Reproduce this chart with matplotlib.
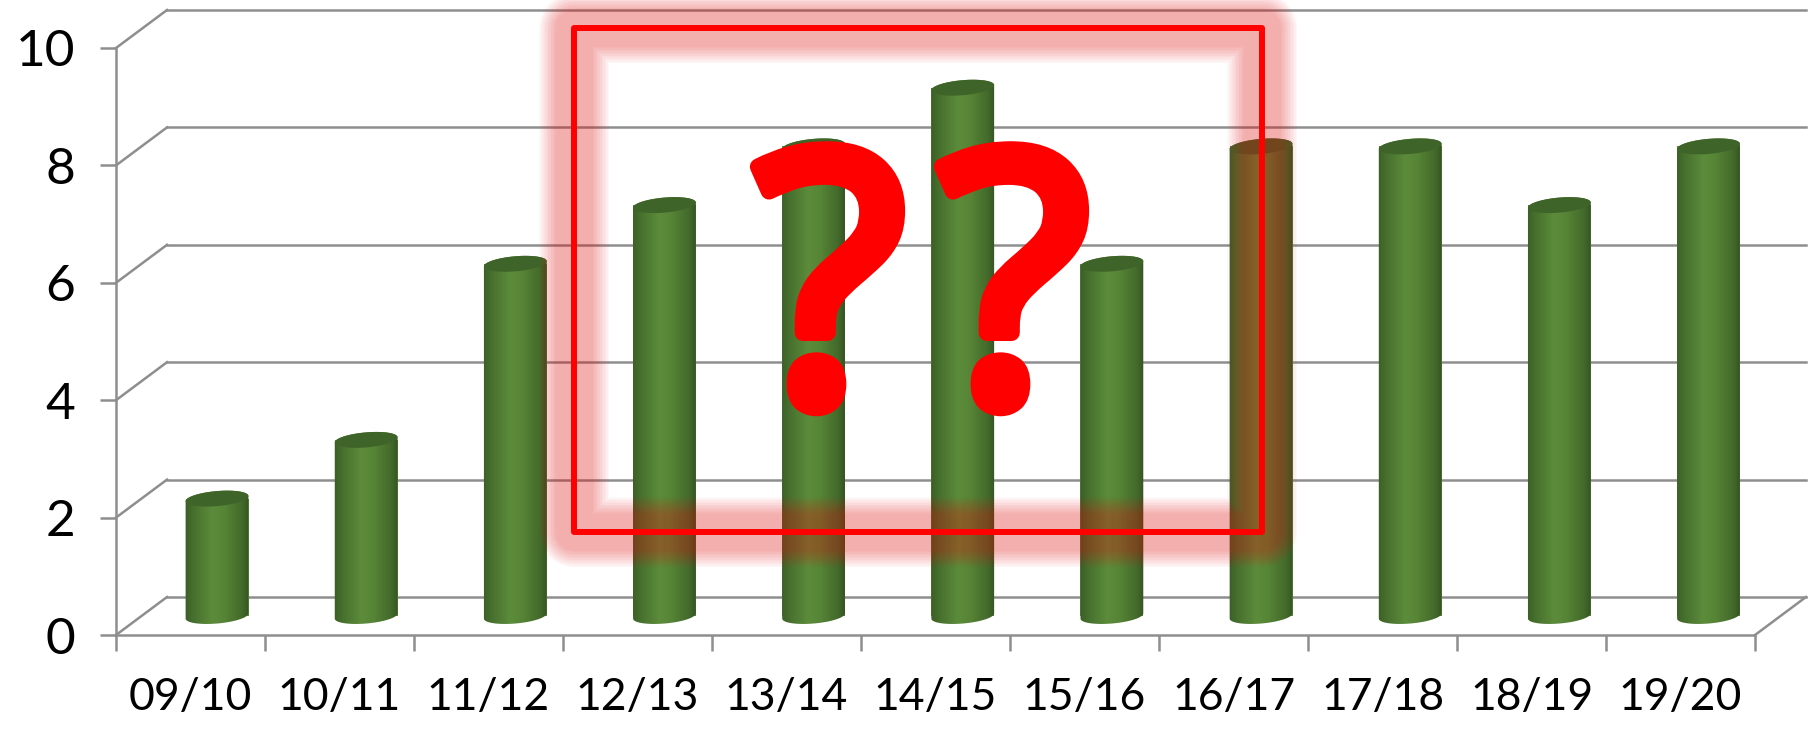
import numpy as np
from matplotlib import pyplot as plt
from matplotlib import patheffects
from matplotlib.colors import LinearSegmentedColormap
from matplotlib.patches import Polygon, Rectangle

seasons = ['09/10', '10/11', '11/12', '12/13', '13/14', '14/15',
           '15/16', '16/17', '17/18', '18/19', '19/20']
counts = [2, 3, 6, 7, 8, 9, 6, 8, 8, 7, 8]
y_ticks = [0, 2, 4, 6, 8, 10]

W, H = 1819, 731
GREY = '#8e8e8e'
plt.rcParams['font.family'] = ['Lato', 'DejaVu Sans']

fig = plt.figure(figsize=(W / 100, H / 100), dpi=100)
# front plane of the fake 3d box
ax = fig.add_axes([116 / W, 1 - 635 / H, (1755 - 116) / W, (635 - 48) / H])
ax.set_xlim(0, len(seasons))
ax.set_ylim(0, 10)

px_x = (1755 - 116) / len(seasons)
px_y = (635 - 48) / 10
dx = 51 / px_x
dy = 38 / px_y

# back wall and floor
for v in y_ticks:
    ax.plot([0, dx], [v, v + dy], color=GREY, lw=1.8, clip_on=False, zorder=1)
    ax.plot([dx, len(seasons) + dx], [v + dy, v + dy], color=GREY, lw=1.8,
            clip_on=False, zorder=1)
ax.plot([len(seasons), len(seasons) + dx], [0, dy], color=GREY, lw=1.8,
        clip_on=False, zorder=1)


def ellipse(cx, cy, t):
    # tilted ellipse, built in pixels and returned in data units
    a, b, tilt = 31.5, 7.5, np.radians(5)
    ex = a * np.cos(t) * np.cos(tilt) - b * np.sin(t) * np.sin(tilt)
    ey = a * np.cos(t) * np.sin(tilt) + b * np.sin(t) * np.cos(tilt)
    return cx + ex / px_x, cy + ey / px_y


shade = LinearSegmentedColormap.from_list(
    'cyl', [(0, '#3b5e27'), (0.12, '#466f2d'), (0.42, '#5c8c3b'),
            (0.6, '#578536'), (0.88, '#436a2b'), (1, '#345221')])
ramp = np.linspace(0, 1, 128).reshape(1, -1)

centers = np.arange(len(seasons)) * 1.001 + 0.5 + (dx + 2 / px_x) / 2
base = dy / 2
half = 31.5 / px_x
ax.bar(centers, counts, width=2 * half, bottom=base, color='#5c8c3b',
       clip_on=False, zorder=2)

for c, v in zip(centers, counts):
    up = ellipse(c, base + v, np.linspace(0, np.pi, 40))
    down = ellipse(c, base, np.linspace(np.pi, 2 * np.pi, 40))
    outline = np.column_stack([np.r_[up[0], down[0]], np.r_[up[1], down[1]]])
    body = Polygon(outline, closed=True, fc='none', ec='none', clip_on=False)
    ax.add_patch(body)
    im = ax.imshow(ramp, cmap=shade, aspect='auto', zorder=2.1,
                   extent=(c - half * 1.02, c + half * 1.02, 0, base + v + 0.3))
    im.set_clip_path(body)
    top = ellipse(c, base + v, np.linspace(0, 2 * np.pi, 80))
    ax.fill(top[0], top[1], color='#3f6429', lw=0, clip_on=False, zorder=3)

ax.set_xlim(0, len(seasons))
ax.set_ylim(0, 10)

# axes
for side in ['top', 'right']:
    ax.spines[side].set_visible(False)
for side in ['left', 'bottom']:
    ax.spines[side].set_color(GREY)
    ax.spines[side].set_linewidth(1.8)
ax.set_yticks(y_ticks)
ax.set_xticks(np.arange(len(seasons) + 1))
ax.set_xticklabels([])
ax.set_xticks(np.arange(len(seasons)) + 0.5, seasons, minor=True)
ax.tick_params(axis='both', which='major', length=11.5, width=1.8, color=GREY)
ax.tick_params(axis='y', labelsize=37, pad=18)
ax.tick_params(axis='x', which='minor', length=0, labelsize=32, pad=30)

# red box with soft glow, placed on the figure
box = (574 / W, 1 - 532 / H, (1262 - 574) / W, (532 - 28) / H)
for lw_px in range(70, 34, -3):
    ax.add_patch(Rectangle(box[:2], box[2], box[3], transform=fig.transFigure,
                           fill=False, ec='#f01010', alpha=0.03, lw=lw_px * .72,
                           joinstyle='round', clip_on=False, zorder=4))
ax.add_patch(Rectangle(box[:2], box[2], box[3], transform=fig.transFigure,
                       fill=False, ec='#ff0000', lw=4.3, joinstyle='round',
                       clip_on=False, zorder=5))

for x_px in [830, 1014]:
    fig.text(x_px / W, 1 - 403 / H, '?', color='#ff0000', fontsize=252,
             family='Noto Sans', fontweight='bold',
             ha='center', va='baseline', zorder=6,
             path_effects=[patheffects.withStroke(linewidth=12, foreground='#ff0000')])

plt.savefig('out.png', dpi=100)
plt.close()
